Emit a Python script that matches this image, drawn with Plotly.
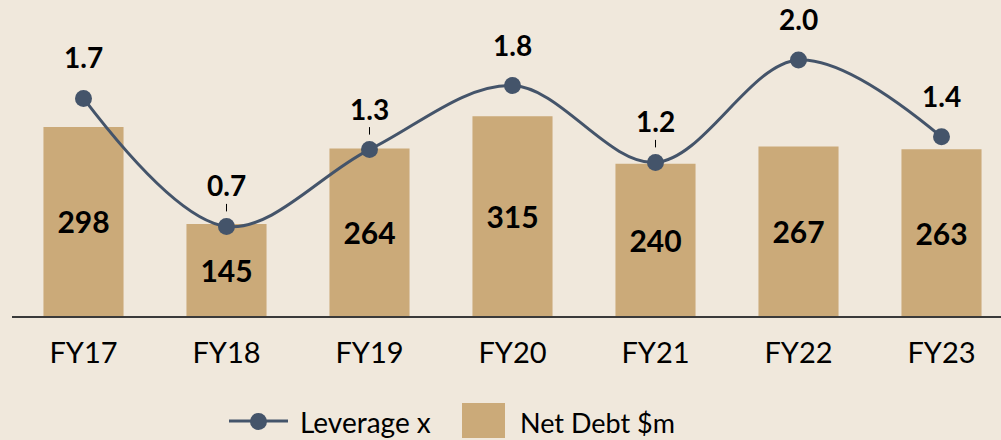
import plotly.graph_objects as go

YEARS = ["FY17", "FY18", "FY19", "FY20", "FY21", "FY22", "FY23"]
NET_DEBT = [298, 145, 264, 315, 240, 267, 263]
LEVERAGE = [1.7, 0.7, 1.3, 1.8, 1.2, 2.0, 1.4]
# leader line shown between label and marker
LEADER = [False, True, True, False, True, False, False]

BG = "#F0E8DC"
BAR_COLOR = "#CBAA79"
LINE_COLOR = "#44546A"
FONT = "Lato"

W, H = 1001, 440
M_L, M_R, M_T, M_B = 12, 0, 0, 124
PLOT_W = W - M_L - M_R
PLOT_H = H - M_T - M_B


def px_to_paper(x, y):
    return (x - M_L) / PLOT_W, (PLOT_H + M_T - y) / PLOT_H


fig = go.Figure()

fig.add_trace(
    go.Bar(
        x=YEARS,
        y=NET_DEBT,
        name="Net Debt $m",
        marker=dict(color=BAR_COLOR, line=dict(width=0)),
        width=0.56,
        text=[str(v) for v in NET_DEBT],
        textposition="inside",
        insidetextanchor="middle",
        textangle=0,
        textfont=dict(family=FONT, size=30, color="black", weight="bold"),
        showlegend=False,
    )
)

fig.add_trace(
    go.Scatter(
        x=YEARS,
        y=LEVERAGE,
        yaxis="y2",
        name="Leverage x",
        mode="lines+markers",
        line=dict(color=LINE_COLOR, width=3, shape="spline", smoothing=1),
        marker=dict(color=LINE_COLOR, size=17),
        showlegend=False,
    )
)

annotations = []
for yr, lev, lead in zip(YEARS, LEVERAGE, LEADER):
    annotations.append(
        dict(
            x=yr,
            y=lev,
            xref="x",
            yref="y2",
            text=f"{lev:.1f}",
            showarrow=True,
            arrowhead=0,
            arrowwidth=1,
            arrowcolor="black" if lead else "rgba(0,0,0,0)",
            standoff=15,
            ax=0,
            ay=-41,
            font=dict(family=FONT, size=28, color="black", weight="bold"),
        )
    )

# legend drawn by hand so the glyphs match the original sizes
shapes = []
x0, y0 = px_to_paper(229, 421)
x1, _ = px_to_paper(288, 421)
shapes.append(dict(type="line", xref="paper", yref="paper", x0=x0, x1=x1, y0=y0, y1=y0,
                   line=dict(color=LINE_COLOR, width=3)))
cx0, cy0 = px_to_paper(250, 413)
cx1, cy1 = px_to_paper(267, 430)
shapes.append(dict(type="circle", xref="paper", yref="paper", x0=cx0, x1=cx1, y0=cy1, y1=cy0,
                   fillcolor=LINE_COLOR, line=dict(width=0)))
rx0, ry0 = px_to_paper(462, 403)
rx1, ry1 = px_to_paper(505, 438)
shapes.append(dict(type="rect", xref="paper", yref="paper", x0=rx0, x1=rx1, y0=ry1, y1=ry0,
                   fillcolor=BAR_COLOR, line=dict(width=0)))

tx, ty = px_to_paper(298, 422)
annotations.append(dict(x=tx, y=ty, xref="paper", yref="paper", text="Leverage x",
                        showarrow=False, xanchor="left", yanchor="middle",
                        font=dict(family=FONT, size=28, color="black")))
tx, ty = px_to_paper(518, 422)
annotations.append(dict(x=tx, y=ty, xref="paper", yref="paper", text="Net Debt $m",
                        showarrow=False, xanchor="left", yanchor="middle",
                        font=dict(family=FONT, size=27, color="black")))

fig.update_layout(
    width=W,
    height=H,
    margin=dict(l=M_L, r=M_R, t=M_T, b=M_B),
    paper_bgcolor=BG,
    plot_bgcolor=BG,
    showlegend=False,
    bargap=0.44,
    xaxis=dict(
        range=[-0.5, -0.5 + PLOT_W / 143],
        showline=True,
        linecolor="#3A3A3A",
        linewidth=1.5,
        ticks="",
        showgrid=False,
        zeroline=False,
        tickfont=dict(family=FONT, size=29, color="black"),
        ticklabelstandoff=10,
    ),
    yaxis=dict(range=[0, PLOT_H / 0.6345], visible=False, showgrid=False, zeroline=False),
    yaxis2=dict(range=[0, PLOT_H / 128], overlaying="y", visible=False,
                showgrid=False, zeroline=False),
    annotations=annotations,
    shapes=shapes,
)

# drop the browser's default body margin so the figure fills the window
fig.write_html(
    "out.html",
    config={"displayModeBar": False},
    post_script="document.body.style.margin='0';document.body.style.overflow='hidden';",
)
